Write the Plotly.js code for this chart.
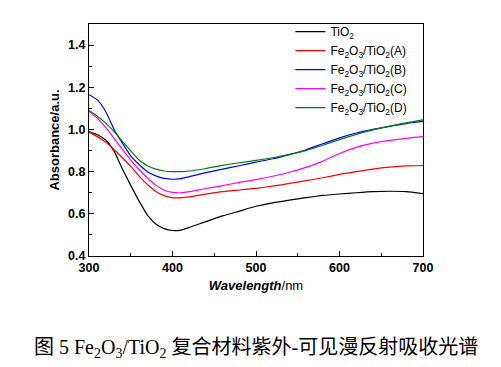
<!DOCTYPE html>
<html>
<head>
<meta charset="utf-8">
<script src="https://cdn.plot.ly/plotly-3.0.1.min.js"></script>
<style>
html,body{margin:0;padding:0;background:#fff;}
#chart{width:501px;height:367px;}
</style>
</head>
<body>
<div id="chart"></div>
<script>
const wavelength = [300,310,320,330,340,350,360,370,380,390,400,410,420,440,460,480,500,520,540,560,580,600,620,640,660,680,700];
const tio2   = [0.990,0.975,0.950,0.897,0.812,0.735,0.660,0.594,0.552,0.530,0.521,0.523,0.535,0.563,0.590,0.613,0.636,0.652,0.665,0.677,0.687,0.694,0.700,0.705,0.707,0.705,0.696];
const feA    = [0.988,0.966,0.940,0.905,0.866,0.825,0.779,0.739,0.706,0.686,0.676,0.676,0.680,0.693,0.705,0.713,0.721,0.731,0.744,0.757,0.771,0.787,0.800,0.812,0.821,0.827,0.829];
const feB    = [1.165,1.140,1.085,1.000,0.935,0.875,0.834,0.800,0.780,0.768,0.764,0.767,0.776,0.795,0.812,0.828,0.845,0.861,0.881,0.904,0.932,0.960,0.983,1.000,1.015,1.028,1.038];
const feC    = [1.085,1.053,1.010,0.958,0.906,0.855,0.810,0.770,0.736,0.712,0.702,0.700,0.705,0.720,0.734,0.749,0.762,0.778,0.797,0.820,0.850,0.886,0.915,0.935,0.948,0.958,0.966];
const feD    = [1.090,1.063,1.030,0.990,0.944,0.898,0.855,0.828,0.812,0.803,0.800,0.800,0.803,0.815,0.830,0.842,0.853,0.866,0.882,0.900,0.925,0.952,0.977,0.998,1.016,1.031,1.045];

const seriesNames = ['TiO<sub>2</sub>','Fe<sub>2</sub>O<sub>3</sub>/TiO<sub>2</sub>(A)','Fe<sub>2</sub>O<sub>3</sub>/TiO<sub>2</sub>(B)','Fe<sub>2</sub>O<sub>3</sub>/TiO<sub>2</sub>(C)','Fe<sub>2</sub>O<sub>3</sub>/TiO<sub>2</sub>(D)'];
const seriesValues = [tio2, feA, feB, feC, feD];
const seriesColors = ['#000000','#ff0000','#0000ff','#ff00ff','#008000'];
const yTicks = [0.4,0.6,0.8,1.0,1.2,1.4];
const xTicks = [300,400,500,600,700];
const caption = '图 5 Fe<sub>2</sub>O<sub>3</sub>/TiO<sub>2</sub> 复合材料紫外-可见漫反射吸收光谱';

const traces = seriesValues.map((v,i)=>({
  x: wavelength, y: v, name: seriesNames[i], type:'scatter', mode:'lines',
  line:{color:seriesColors[i], width:1.2, shape:'spline', smoothing:0.5}
}));

const tickFont = {family:'Arial, Liberation Sans, sans-serif', size:12.5, color:'#000', weight:'bold'};

const layout = {
  width:501, height:367,
  margin:{l:89, r:78, t:24, b:111},
  paper_bgcolor:'#fff', plot_bgcolor:'#fff',
  showlegend:true,
  legend:{x:0.603, xanchor:'left', y:1.03, yanchor:'top', bgcolor:'rgba(0,0,0,0)',
    font:{family:'Arial, Liberation Sans, sans-serif', size:12, color:'#000'}, tracegroupgap:0},
  xaxis:{
    range:[300,700], tickvals:xTicks, ticktext:xTicks.map(String),
    ticks:'inside', ticklen:5, tickwidth:1, tickcolor:'#000',
    minor:{dtick:50, tick0:300, ticks:'inside', ticklen:3, tickwidth:1, tickcolor:'#000'},
    showline:true, linecolor:'#000', linewidth:1, mirror:true,
    showgrid:false, zeroline:false, tickfont:tickFont,
    title:{text:'<b><i>Wavelength</i></b>/nm', font:{family:'Arial, Liberation Sans, sans-serif', size:13, color:'#000'}, standoff:6},
    automargin:false
  },
  yaxis:{
    range:[0.4,1.5], tickvals:yTicks, ticktext:yTicks.map(v=>v.toFixed(1)),
    ticks:'inside', ticklen:5, tickwidth:1, tickcolor:'#000',
    minor:{dtick:0.1, tick0:0.4, ticks:'inside', ticklen:3, tickwidth:1, tickcolor:'#000'},
    showline:true, linecolor:'#000', linewidth:1, mirror:true,
    showgrid:false, zeroline:false, tickfont:tickFont,
    title:{text:'<b>Absorbance/a.u.</b>', font:{family:'Arial, Liberation Sans, sans-serif', size:13, color:'#000'}, standoff:5},
    automargin:false
  },
  annotations:[{
    text:caption, xref:'paper', yref:'paper', x:0.5, y:-0.40, xanchor:'center', yanchor:'middle',
    showarrow:false, font:{family:'Liberation Serif, Times New Roman, Noto Sans CJK SC, serif', size:20, color:'#000'}
  }]
};

Plotly.newPlot('chart', traces, layout, {staticPlot:true, displayModeBar:false});
</script>
</body>
</html>
